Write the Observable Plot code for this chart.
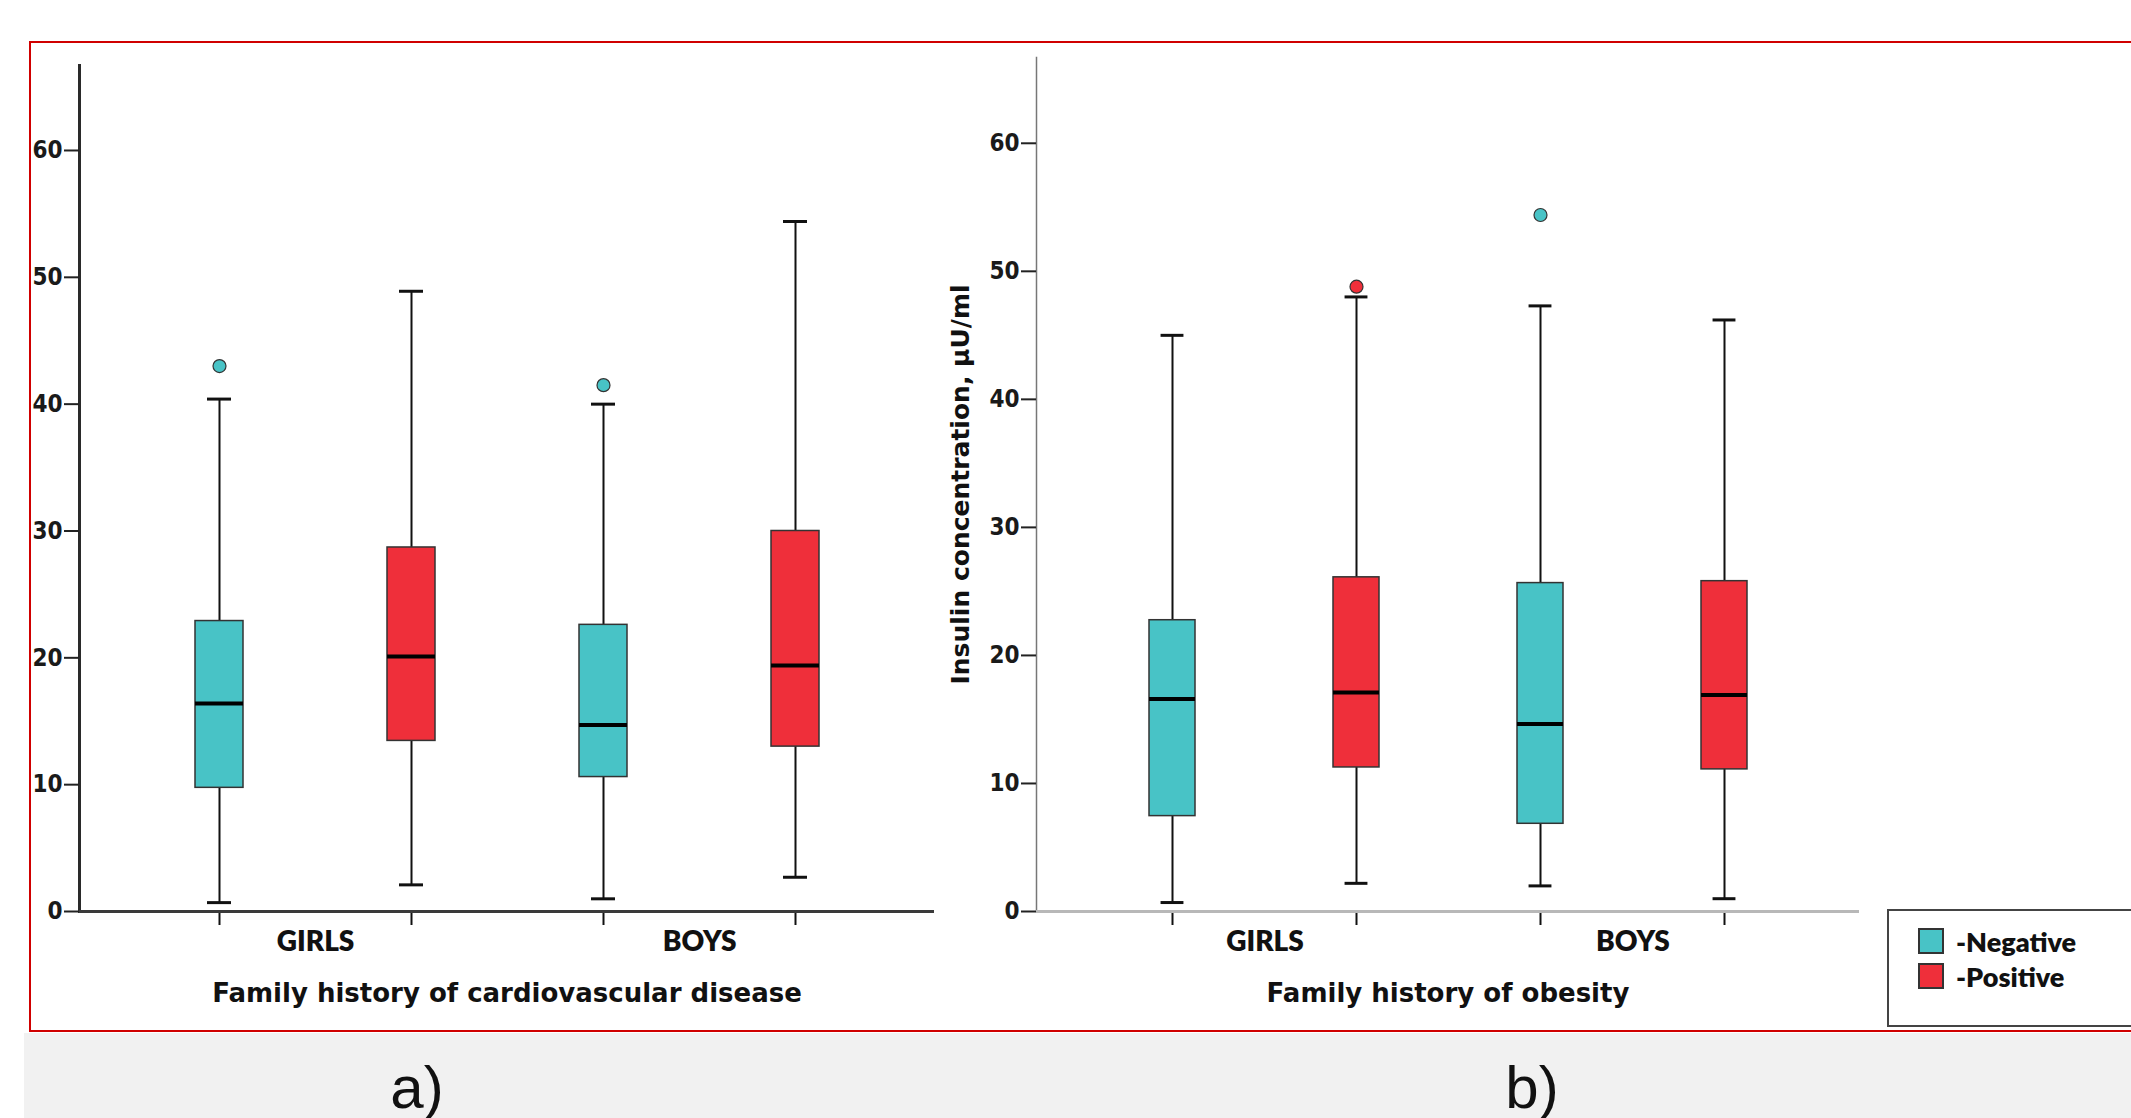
<!DOCTYPE html>
<html>
<head>
<meta charset="utf-8">
<script src="https://cdn.jsdelivr.net/npm/d3@7"></script>
<script src="https://cdn.jsdelivr.net/npm/@observablehq/plot@0.6"></script>
<style>
  html, body { margin: 0; padding: 0; background: #ffffff; }
  #page { position: relative; width: 2131px; height: 1118px; overflow: hidden; background: #ffffff; }
  #frame { position: absolute; left: 29px; top: 41px; width: 2200px; height: 987px; border: 2px solid #d00000; }
  #band { position: absolute; left: 24px; top: 1033px; width: 2120px; height: 90px; background: #f1f1f1; }
  .panel-label { position: absolute; top: 1058px; font-family: "Liberation Sans", Arial, sans-serif; font-size: 60px; line-height: 60px; color: #111; transform: translateX(-50%); }
  .plot { position: absolute; top: 0; overflow: visible; }
  #legend { position: absolute; left: 1887px; top: 909px; width: 300px; height: 114px; border: 2px solid #444; background: #fff; }
  .item { position: absolute; left: 29px; height: 30px; display: flex; align-items: center; font-family: Lato, "Open Sans", sans-serif; font-weight: 800; font-size: 27px; color: #111; }
  .sw { width: 22px; height: 22px; border: 2px solid #333; margin-right: 12px; }
</style>
</head>
<body>
<div id="page">
  <div id="band"></div>
  <div id="frame"></div>
  <div id="legend"></div>
</div>
<script>
// ---------- data ----------
const groups = ["GIRLS", "BOYS"];
const histories = ["Negative", "Positive"];
const historyColors = ["#48C3C6", "#EF2F3A"];
const yTicks = [0, 10, 20, 30, 40, 50, 60];
const yMax = 66.7;

// order of boxes: GIRLS-Negative, GIRLS-Positive, BOYS-Negative, BOYS-Positive
// a) Family history of cardiovascular disease
const cvdLow    = [0.7, 2.1, 1.0, 2.7];
const cvdQ1     = [9.75, 13.45, 10.6, 13.0];
const cvdMedian = [16.4, 20.1, 14.7, 19.4];
const cvdQ3     = [22.9, 28.7, 22.6, 30.0];
const cvdHigh   = [40.4, 48.9, 40.0, 54.4];
const cvdOutliers = [[43.0], [], [41.5], []];

// b) Family history of obesity
const obLow    = [0.7, 2.2, 2.0, 1.0];
const obQ1     = [7.45, 11.25, 6.85, 11.1];
const obMedian = [16.6, 17.1, 14.65, 16.9];
const obQ3     = [22.75, 26.1, 25.65, 25.8];
const obHigh   = [45.0, 48.0, 47.3, 46.2];
const obOutliers = [[], [48.8], [54.4], []];

const panelATitle = "Family history of cardiovascular disease";
const panelBTitle = "Family history of obesity";
const yTitle = "Insulin concentration, µU/ml";

// ---------- build ----------
const keys = [];
groups.forEach(g => histories.forEach(h => keys.push(g + " " + h)));

function rowsOf(low, q1, med, q3, high) {
  return keys.map((k, i) => ({
    key: k, group: groups[Math.floor(i / 2)], history: histories[i % 2],
    low: low[i], q1: q1[i], median: med[i], q3: q3[i], high: high[i]
  }));
}
function outliersOf(list) {
  const out = [];
  list.forEach((vals, i) => vals.forEach(v => out.push({key: keys[i], history: histories[i % 2], value: v})));
  return out;
}

const tickFont = '"Liberation Sans Narrow", "Arial Narrow", "DejaVu Sans Condensed", sans-serif';
const titleFont = '"DejaVu Sans", Verdana, sans-serif';
const catFont = 'Lato, "Open Sans", sans-serif';

function panel(opts) {
  const {rows, outs, width, height, mL, mR, mT, mB, title, ylabel, xAxisColor, yAxisColor, yAxisWidth} = opts;
  const pInner = 0.75, pOuter = 0.6;
  const W = width - mL - mR;
  const step = W / (keys.length - pInner + 2 * pOuter);
  const bw = step * (1 - pInner);
  const marks = [
    Plot.frame({anchor: "left", stroke: yAxisColor, strokeWidth: yAxisWidth}),
    Plot.axisY({ticks: yTicks, tickSize: 15, tickPadding: 2, tickFormat: d3.format("d"), label: null,
      fontFamily: tickFont, fontSize: 24, fontWeight: "bold", stroke: "#222", strokeWidth: 2, color: "#1a1a1a"}),
    Plot.axisX({tickSize: 14, tickFormat: () => "", label: title, labelAnchor: "center", labelArrow: "none",
      labelOffset: 90, fontFamily: titleFont, fontSize: 26, fontWeight: "bold", strokeWidth: 2, color: "#111"}),
    Plot.text(rows.filter(d => d.history === histories[0]), {x: "key", text: "group", frameAnchor: "bottom",
      dy: 39, dx: step / 2, fontFamily: catFont, fontWeight: 800, fontSize: 28, fill: "#111"}),
    Plot.ruleY([0], {stroke: xAxisColor, strokeWidth: 3}),
    Plot.ruleX(rows, {x: "key", y1: "low", y2: "high", stroke: "#111", strokeWidth: 2}),
    Plot.tickY(rows, {x: "key", y: "high", stroke: "#111", strokeWidth: 3, insetLeft: bw / 4, insetRight: bw / 4}),
    Plot.tickY(rows, {x: "key", y: "low", stroke: "#111", strokeWidth: 3, insetLeft: bw / 4, insetRight: bw / 4}),
    Plot.barY(rows, {x: "key", y1: "q1", y2: "q3", fill: "history", stroke: "#333", strokeWidth: 1.5}),
    Plot.tickY(rows, {x: "key", y: "median", stroke: "#000", strokeWidth: 4}),
    Plot.dot(outs, {x: "key", y: "value", fill: "history", stroke: "#333", strokeWidth: 1.2, r: 6.5})
  ];
  if (ylabel) {
    marks.push(Plot.axisY({ticks: [], label: ylabel, labelAnchor: "center", labelArrow: "none", labelOffset: 85,
      fontFamily: titleFont, fontSize: 25, fontWeight: "bold", color: "#111"}));
  }
  return Plot.plot({
    width, height, marginLeft: mL, marginRight: mR, marginTop: mT, marginBottom: mB,
    style: {background: "transparent", overflow: "visible"},
    x: {type: "band", domain: keys, paddingInner: pInner, paddingOuter: pOuter, axis: null},
    y: {domain: [0, yMax], axis: null},
    color: {domain: histories, range: historyColors},
    marks
  });
}

const page = document.getElementById("page");

const a = panel({rows: rowsOf(cvdLow, cvdQ1, cvdMedian, cvdQ3, cvdHigh), outs: outliersOf(cvdOutliers),
  width: 960, height: 1030, mL: 79, mR: 26, mT: 65, mB: 119, title: panelATitle, ylabel: null,
  xAxisColor: "#3a3a3a", yAxisColor: "#2a2a2a", yAxisWidth: 3});
a.classList.add("plot"); a.style.left = "0px";
page.appendChild(a);

const b = panel({rows: rowsOf(obLow, obQ1, obMedian, obQ3, obHigh), outs: outliersOf(obOutliers),
  width: 930, height: 1030, mL: 96, mR: 11, mT: 57, mB: 119, title: panelBTitle, ylabel: yTitle,
  xAxisColor: "#b8b8b8", yAxisColor: "#777", yAxisWidth: 1.5});
b.classList.add("plot"); b.style.left = "940px";
page.appendChild(b);

// legend
const legend = document.getElementById("legend");
histories.forEach((h, i) => {
  const it = document.createElement("div");
  it.className = "item";
  it.style.top = (15 + i * 35) + "px";
  const sw = document.createElement("div");
  sw.className = "sw"; sw.style.background = historyColors[i];
  const t = document.createElement("span"); t.textContent = "-" + h;
  it.appendChild(sw); it.appendChild(t);
  legend.appendChild(it);
});

// panel letters
[["a)", 417], ["b)", 1532]].forEach(([txt, x]) => {
  const s = document.createElement("div");
  s.className = "panel-label"; s.style.left = x + "px"; s.textContent = txt;
  page.appendChild(s);
});
</script>
</body>
</html>
